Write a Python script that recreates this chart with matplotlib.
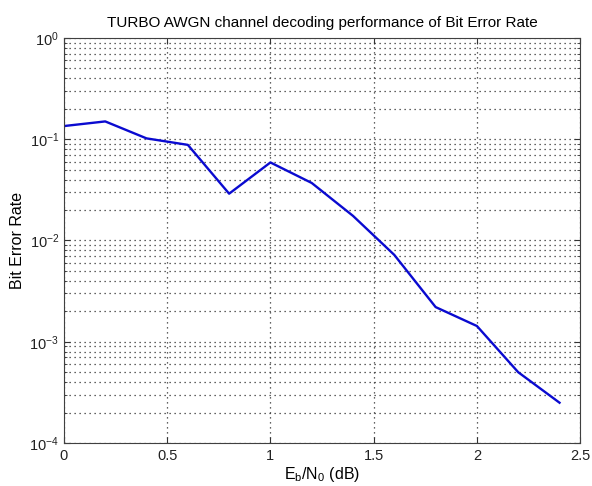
import matplotlib.pyplot as plt
from matplotlib.ticker import LogLocator, NullFormatter

plt.rcParams['font.family'] = 'Liberation Sans'
plt.rcParams['mathtext.fontset'] = 'custom'
plt.rcParams['mathtext.rm'] = 'Liberation Sans'
plt.rcParams['mathtext.it'] = 'Liberation Sans'

# Eb/N0 (dB) and measured bit error rate
ebn0 = [0.0, 0.2, 0.4, 0.6, 0.8, 1.0, 1.2, 1.4, 1.6, 1.8, 2.0, 2.2, 2.4]
ber = [0.135, 0.150, 0.102, 0.088, 0.029, 0.059, 0.037, 0.0175, 0.0072,
       0.0022, 0.00143, 0.00050, 0.00025]

fig = plt.figure(figsize=(5.92, 4.86), dpi=100)
ax = fig.add_axes([0.108, 0.0885, 0.872, 0.8333])
ax.plot(ebn0, ber, color='#0a0ad0', linewidth=1.7)

ax.set_yscale('log')
ax.set_xlim(0, 2.5)
ax.set_ylim(1e-4, 1)
ax.set_xticks([0, 0.5, 1, 1.5, 2, 2.5])
ax.set_xticklabels(['0', '0.5', '1', '1.5', '2', '2.5'])
ax.yaxis.set_major_locator(LogLocator(base=10, numticks=10))
ax.yaxis.set_minor_locator(LogLocator(base=10, subs=range(2, 10), numticks=10))
ax.yaxis.set_minor_formatter(NullFormatter())

dots = (0, (1, 3))
ax.grid(True, which='major', axis='both', linestyle=dots, color='#303030', linewidth=0.9)
ax.grid(True, which='minor', axis='y', linestyle=dots, color='#303030', linewidth=0.9)

ax.tick_params(which='both', direction='in', top=True, right=True, labelsize=10.5,
               colors='#333333', labelcolor='#222222')
ax.tick_params(which='major', length=4)
ax.tick_params(which='minor', length=2)
ax.tick_params(axis='x', pad=4)
for s in ax.spines.values():
    s.set_color('#404040')

ax.set_title('TURBO AWGN channel decoding performance of Bit Error Rate', fontsize=11, pad=8)
ax.set_xlabel(r'$\mathregular{E_b/N_0}$ (dB)', fontsize=11.5, labelpad=2)
ax.set_ylabel('Bit Error Rate', fontsize=11.5, labelpad=3)

fig.savefig('out.png', dpi=100, facecolor='white')
